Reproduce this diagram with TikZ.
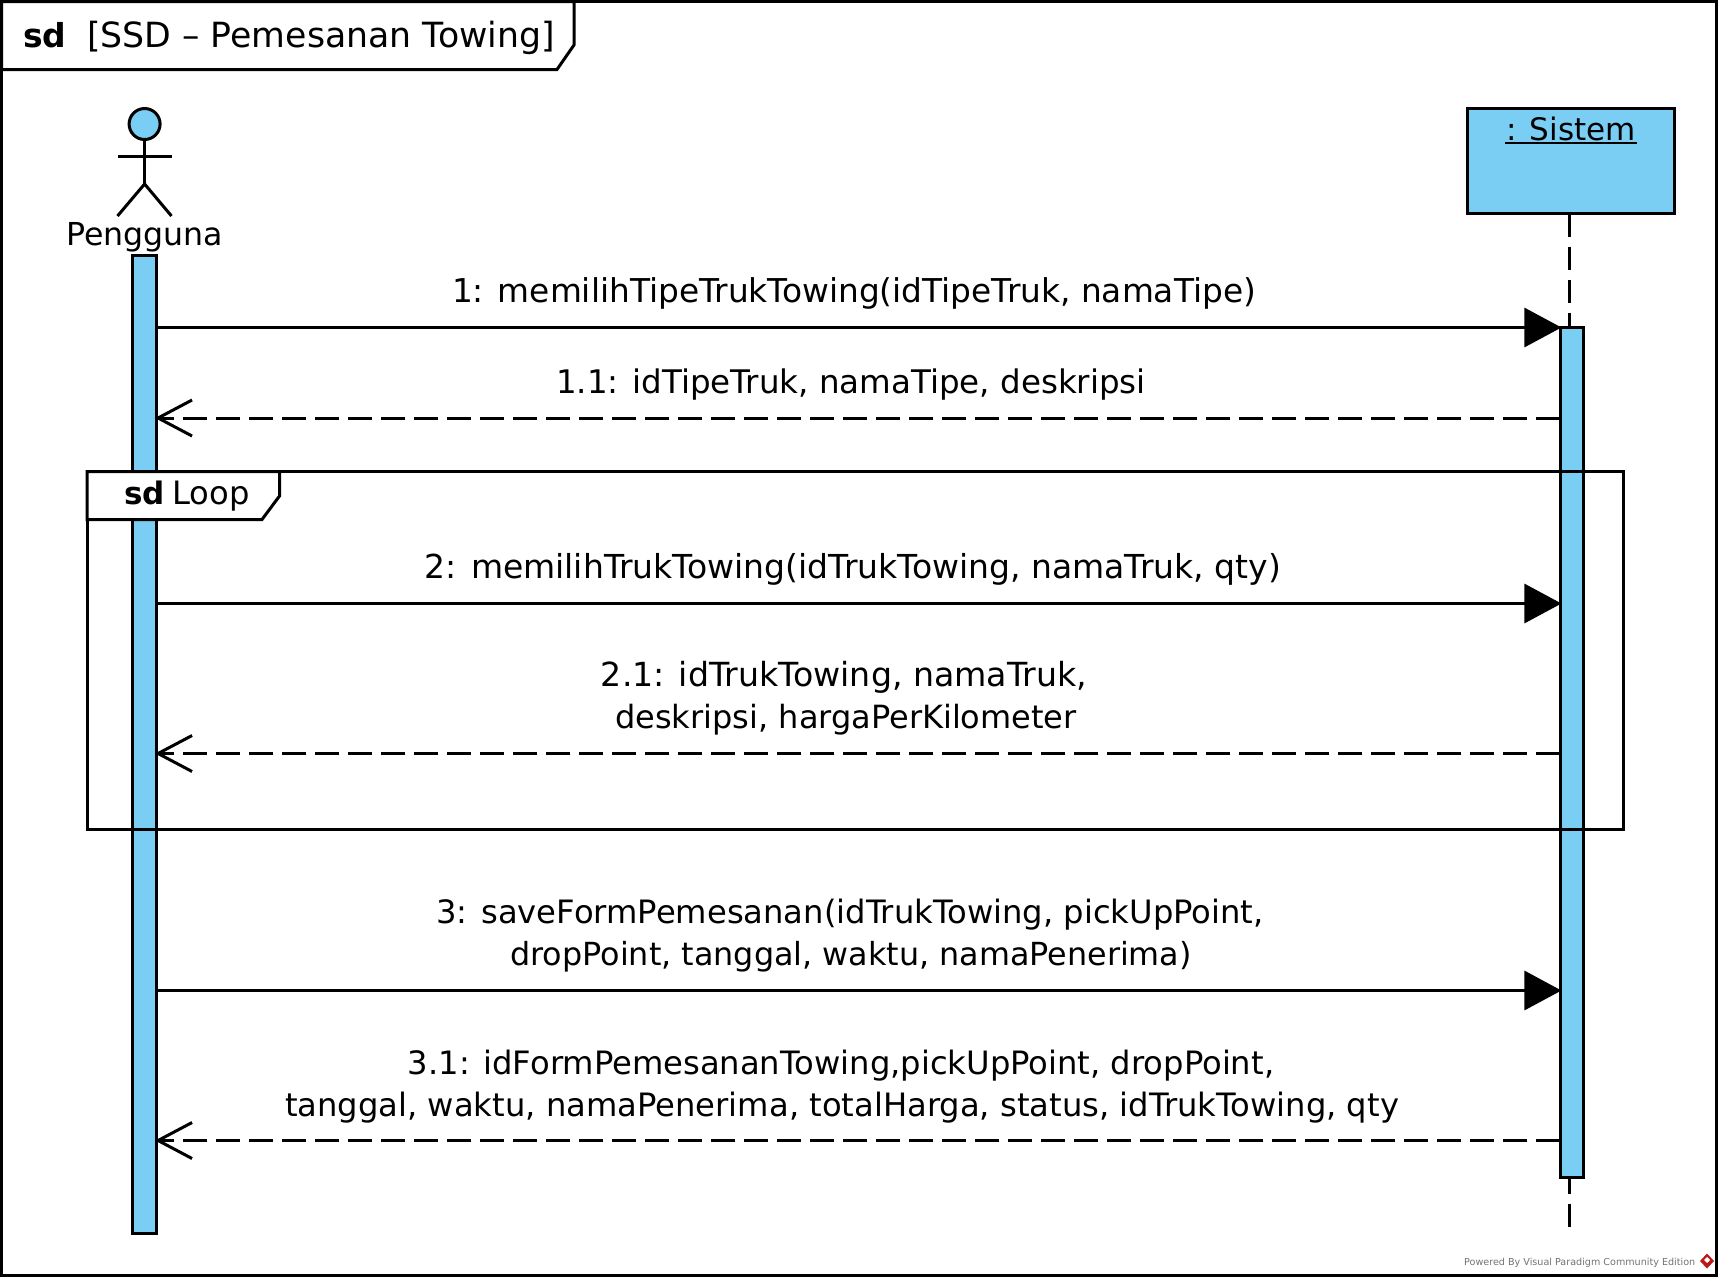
\documentclass[tikz,border=0pt]{standalone}
\usepackage{fontspec}
\setmainfont{DejaVu Sans}
\usetikzlibrary{arrows.meta,calc}
\definecolor{uml}{HTML}{7ACEF4}
\newcommand{\msgsize}[1]{\fontsize{#1}{42}\selectfont}
\tikzset{
  ln/.style={line width=3pt,draw=black,line join=miter},
  act/.style={ln,fill=uml,inner sep=0pt,outer sep=0pt,minimum width=23.5pt},
  txt/.style={anchor=base,inner sep=0pt,font=\msgsize{32.2},text=black},
  call/.style={ln,-{Triangle[length=37pt,width=39pt]},shorten >=-1pt},
  reply/.style={ln,dash pattern=on 24pt off 9pt,-{Straight Barb[length=34pt,width=36pt,line width=3pt]},shorten >=-1.5pt},
}
\begin{document}
\begin{tikzpicture}[x=1pt,y=-1pt]
\useasboundingbox (0,0) rectangle (1719,1278);
\fill[white] (0,0) rectangle (1719,1278);
% frame
\draw[ln] (1.5,1.5) rectangle (1716,1275.5);
\draw[ln,fill=white] (1.5,1.5) -- (574,1.5) -- (574,45) -- (557,69.5) -- (1.5,69.5) -- cycle;
\node[txt,font=\fontsize{33}{40}\selectfont\bfseries,anchor=base west] (sdmain) at (23,47.5) {sd};
\node[txt,font=\fontsize{34.7}{40}\selectfont,anchor=base west] (title) at (87,47.5) {[SSD – Pemesanan Towing]};
% actor
\node[ln,circle,fill=uml,minimum size=31pt,inner sep=0pt,outer sep=0pt] (head) at (144.6,124) {};
\coordinate (hip) at (144.6,184);
\coordinate (armL) at (117.5,156);
\coordinate (armR) at (171.5,156);
\coordinate (legL) at (117.5,216);
\coordinate (legR) at (171.5,216);
\draw[ln] (head.south) -- (hip);
\draw[ln] (armL) -- (armR);
\draw[ln] (legL) -- (hip) -- (legR);
\node[txt,font=\msgsize{31.6}] (pengguna) at (144.6,245) {Pengguna};
% sistem
\node[ln,fill=uml,inner sep=0pt,outer sep=0pt,minimum width=207pt,minimum height=105pt] (sistem) at (1571,161) {};
\node[txt,font=\msgsize{31}] (sistemlabel) at (1571,140.5) {: Sistem};
\coordinate (ulL) at (1505,143);
\coordinate (ulR) at (1637,143);
\draw[line width=2.6pt] (ulL) -- (ulR);
\coordinate (lifeEnd) at (1569.7,1227);
\draw[ln,dash pattern=on 23pt off 10pt] (sistem.south -| lifeEnd) -- (lifeEnd);
% activations
\node[act,minimum height=978pt] (aL) at (144.6,744.5) {};
\node[act,minimum height=850pt] (aR) at (1572.2,752) {};
% loop
\draw[ln] (87,471.7) rectangle (1623.5,829);
\draw[ln,fill=white] (87,471.7) -- (279.5,471.7) -- (279.5,496) -- (262,519.5) -- (87,519.5) -- cycle;
\node[txt,font=\fontsize{31}{40}\selectfont\bfseries,anchor=base west] (sdloop) at (124,504) {sd};
\node[txt,anchor=base west] (loop) at (172,504) {Loop};
% messages
\foreach \n/\y in {1/327.5,2/418,3/603.5,4/753.5,5/990.5,6/1140.5} {
  \coordinate (l\n) at (aL.east |- 0,\y);
  \coordinate (r\n) at (aR.west |- 0,\y);
}
\draw[call] (l1) -- (r1);
\draw[reply] (r2) -- (l2);
\draw[call] (l3) -- (r3);
\draw[reply] (r4) -- (l4);
\draw[call] (l5) -- (r5);
\draw[reply] (r6) -- (l6);
\node[txt,font=\msgsize{32.8}] (m1) at (854,302.5) {1: memilihTipeTrukTowing(idTipeTruk, namaTipe)};
\node[txt,font=\msgsize{32.5}] (m2) at (851,393) {1.1: idTipeTruk, namaTipe, deskripsi};
\node[txt,font=\msgsize{33}] (m3) at (853,578.5) {2: memilihTrukTowing(idTrukTowing, namaTruk, qty)};
\node[txt,font=\msgsize{33.2}] (m4a) at (844,686.5) {2.1: idTrukTowing, namaTruk,};
\node[txt,font=\msgsize{32}] (m4b) at (846,728.5) {deskripsi, hargaPerKilometer};
\node[txt] (m5a) at (850,923.5) {3: saveFormPemesanan(idTrukTowing, pickUpPoint,};
\node[txt,font=\msgsize{31.8}] (m5b) at (851,965.5) {dropPoint, tanggal, waktu, namaPenerima)};
\node[txt] (m6a) at (841,1074) {3.1: idFormPemesananTowing,pickUpPoint, dropPoint,};
\node[txt] (m6b) at (842,1116) {tanggal, waktu, namaPenerima, totalHarga, status, idTrukTowing, qty};
% footer
\node[txt,font=\fontsize{9.6}{12}\selectfont,text=black!55,anchor=base west] (powered) at (1464,1265) {Powered By Visual Paradigm Community Edition};
\fill[red!70!black!90] (1707,1253.5) -- (1714,1261) -- (1707,1268.5) -- (1700,1261) -- cycle;
\fill[white] (1707,1257) -- (1710,1260) -- (1707,1263) -- (1704,1260) -- cycle;
\end{tikzpicture}
\end{document}
